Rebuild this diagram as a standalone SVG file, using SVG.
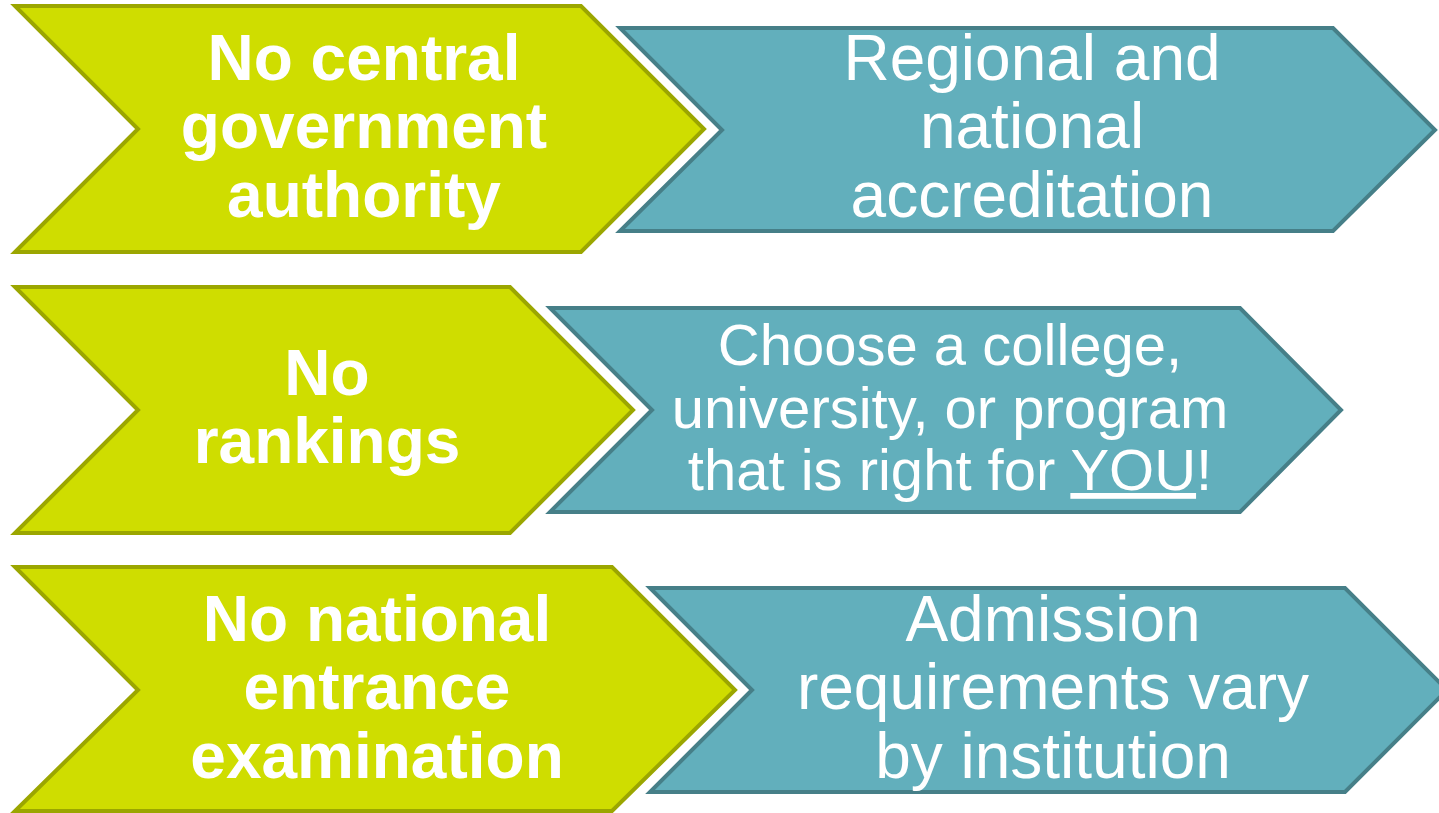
<svg xmlns="http://www.w3.org/2000/svg" width="1439" height="813" viewBox="0 0 1439 813">
<style>
.g{fill:#CFDD00;stroke:#9BA600;stroke-width:4;stroke-linejoin:miter}
.t{fill:#62AFBC;stroke:#467F88;stroke-width:4;stroke-linejoin:miter}
.gt{font-family:"Liberation Sans",Arial,sans-serif;font-weight:bold;font-size:64px;fill:#FFFFFF;text-anchor:middle}
.tt{font-family:"Liberation Sans",Arial,sans-serif;font-size:64px;fill:#FFFFFF;text-anchor:middle}
</style>
<rect width="1439" height="813" fill="#FFFFFF"/>
<g id="node-no-central">
<polygon class="g" points="15,6 581,6 704,129 581,252 15,252 138,129"/>
<text class="gt"><tspan x="364" y="80">No central</tspan><tspan x="364" y="148">government</tspan><tspan x="364" y="217">authority</tspan></text>
</g>
<g id="node-accreditation">
<polygon class="t" points="620,28 1333,28 1435,130 1333,231 620,231 722,130"/>
<text class="tt"><tspan x="1032" y="80">Regional and</tspan><tspan x="1032" y="148">national</tspan><tspan x="1032" y="217">accreditation</tspan></text>
</g>
<g id="node-no-rankings">
<polygon class="g" points="15,287 510,287 633,410 510,533 15,533 138,410"/>
<text class="gt"><tspan x="327" y="395">No</tspan><tspan x="327" y="463">rankings</tspan></text>
</g>
<g id="node-choose">
<polygon class="t" points="550,308 1240,308 1341,410 1240,512 550,512 652,410"/>
<text class="tt" style="font-size:58px"><tspan x="950" y="365">Choose a college,</tspan><tspan x="950" y="428">university, or program</tspan><tspan x="950" y="490">that is right for <tspan text-decoration="underline">YOU</tspan>!</tspan></text>
</g>
<g id="node-no-exam">
<polygon class="g" points="15,567 612,567 735,690 612,811 15,811 138,690"/>
<text class="gt"><tspan x="377" y="641">No national</tspan><tspan x="377" y="709">entrance</tspan><tspan x="377" y="778">examination</tspan></text>
</g>
<g id="node-admission">
<polygon class="t" points="650,588 1345,588 1447,690 1345,792 650,792 752,690"/>
<text class="tt"><tspan x="1053" y="641">Admission</tspan><tspan x="1053" y="709">requirements vary</tspan><tspan x="1053" y="778">by institution</tspan></text>
</g>
<g id="connectors"></g>
</svg>
